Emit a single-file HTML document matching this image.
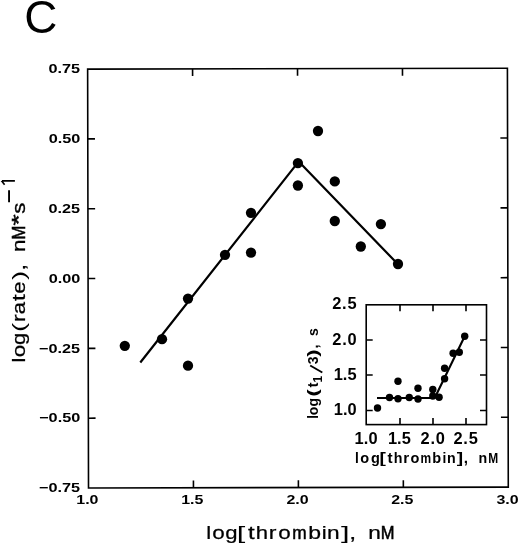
<!DOCTYPE html><html><head><meta charset="utf-8"><title>C</title><style>
html,body{margin:0;padding:0;background:#fff;}svg{display:block;will-change:transform;}
text{font-family:"Liberation Sans",sans-serif;fill:#000;}
.b{font-weight:bold;}
</style></head><body>
<svg width="520" height="545" viewBox="0 0 520 545">
<rect width="520" height="545" fill="#fff"/>
<text transform="translate(24.30,33.00) scale(1.0,1)" font-size="45.9">C</text>
<g transform="rotate(-0.12 298 278)">
<rect x="88.07" y="68.66" width="419.78" height="418.90" fill="none" stroke="#000" stroke-width="1.6"/>
<path d="M88.07 138.48h7.2M507.85 138.48h-7.2M88.07 208.29h7.2M507.85 208.29h-7.2M88.07 278.11h7.2M507.85 278.11h-7.2M88.07 347.93h7.2M507.85 347.93h-7.2M88.07 417.74h7.2M507.85 417.74h-7.2M193.01 68.66v7.2M193.01 487.56v-7.2M297.96 68.66v7.2M297.96 487.56v-7.2M402.91 68.66v7.2M402.91 487.56v-7.2" stroke="#000" stroke-width="1.6" fill="none"/>
</g>
<text class="b" transform="translate(48.44,73.35) scale(1.25,1)" font-size="13.0">0.75</text>
<text class="b" transform="translate(48.64,143.17) scale(1.25,1)" font-size="13.0">0.50</text>
<text class="b" transform="translate(48.44,212.98) scale(1.25,1)" font-size="13.0">0.25</text>
<text class="b" transform="translate(48.64,282.80) scale(1.25,1)" font-size="13.0">0.00</text>
<text class="b" transform="translate(38.93,352.62) scale(1.25,1)" font-size="13.0">−0.25</text>
<text class="b" transform="translate(39.14,422.43) scale(1.25,1)" font-size="13.0">−0.50</text>
<text class="b" transform="translate(38.93,492.25) scale(1.25,1)" font-size="13.0">−0.75</text>
<text class="b" transform="translate(76.30,504.30) scale(1.2,1)" font-size="13.3">1.0</text>
<text class="b" transform="translate(181.14,504.30) scale(1.2,1)" font-size="13.3">1.5</text>
<text class="b" transform="translate(286.41,504.30) scale(1.2,1)" font-size="13.3">2.0</text>
<text class="b" transform="translate(391.25,504.30) scale(1.2,1)" font-size="13.3">2.5</text>
<text class="b" transform="translate(496.40,504.30) scale(1.2,1)" font-size="13.3">3.0</text>
<g><text transform="translate(206.34,539.00) scale(1.15,1)" font-size="19.2" stroke="#000" stroke-width="0.25">l</text><text transform="translate(212.34,539.00) scale(1.17,1)" font-size="19.2" stroke="#000" stroke-width="0.25">o</text><text transform="translate(225.19,539.00) scale(1.15,1)" font-size="19.2" stroke="#000" stroke-width="0.25">g</text><text transform="translate(236.84,539.00) scale(1.6,1)" font-size="19.2">[</text><text transform="translate(247.98,539.00) scale(1.25,1)" font-size="19.2" stroke="#000" stroke-width="0.25">t</text><text transform="translate(255.72,539.00) scale(1.15,1)" font-size="19.2" stroke="#000" stroke-width="0.25">h</text><text transform="translate(268.66,539.00) scale(1.2,1)" font-size="19.2" stroke="#000" stroke-width="0.25">r</text><text transform="translate(278.14,539.00) scale(1.17,1)" font-size="19.2" stroke="#000" stroke-width="0.25">o</text><text transform="translate(292.29,539.00) scale(0.9,1)" font-size="19.2" stroke="#000" stroke-width="0.55">m</text><text transform="translate(308.22,539.00) scale(1.2,1)" font-size="19.2" stroke="#000" stroke-width="0.25">b</text><text transform="translate(321.74,539.00) scale(1.15,1)" font-size="19.2" stroke="#000" stroke-width="0.25">i</text><text transform="translate(327.08,539.00) scale(1.18,1)" font-size="19.2" stroke="#000" stroke-width="0.25">n</text><text transform="translate(341.00,539.00) scale(1.6,1)" font-size="19.2">]</text><text transform="translate(349.24,539.00) scale(1.3,1)" font-size="19.2" stroke="#000" stroke-width="0.25">,</text><text transform="translate(368.28,539.00) scale(1.18,1)" font-size="19.2" stroke="#000" stroke-width="0.25">n</text><text transform="translate(380.73,539.00) scale(0.86,1)" font-size="19.2" stroke="#000" stroke-width="0.6">M</text></g>
<g><text transform="translate(24.70,362.46) rotate(-90) scale(1.15,1)" font-size="19.2" stroke="#000" stroke-width="0.25">l</text><text transform="translate(24.70,357.36) rotate(-90) scale(1.17,1)" font-size="19.2" stroke="#000" stroke-width="0.25">o</text><text transform="translate(24.70,344.91) rotate(-90) scale(1.15,1)" font-size="19.2" stroke="#000" stroke-width="0.25">g</text><text transform="translate(24.70,331.99) rotate(-90) scale(1.45,1)" font-size="19.2">(</text><text transform="translate(24.70,321.94) rotate(-90) scale(1.2,1)" font-size="19.2" stroke="#000" stroke-width="0.25">r</text><text transform="translate(24.70,314.20) rotate(-90) scale(1.15,1)" font-size="19.2" stroke="#000" stroke-width="0.25">a</text><text transform="translate(24.70,300.92) rotate(-90) scale(1.25,1)" font-size="19.2" stroke="#000" stroke-width="0.25">t</text><text transform="translate(24.70,293.73) rotate(-90) scale(1.15,1)" font-size="19.2" stroke="#000" stroke-width="0.25">e</text><text transform="translate(24.70,280.06) rotate(-90) scale(1.45,1)" font-size="19.2">)</text><text transform="translate(24.70,270.76) rotate(-90) scale(1.3,1)" font-size="19.2" stroke="#000" stroke-width="0.25">,</text><text transform="translate(24.70,252.02) rotate(-90) scale(1.18,1)" font-size="19.2" stroke="#000" stroke-width="0.25">n</text><text transform="translate(24.70,239.47) rotate(-90) scale(0.86,1)" font-size="19.2" stroke="#000" stroke-width="0.6">M</text><text transform="translate(24.70,225.62) rotate(-90) scale(1.5,1)" font-size="19.2" stroke="#000" stroke-width="0.5">*</text><text transform="translate(24.70,213.84) rotate(-90) scale(1.15,1)" font-size="19.2" stroke="#000" stroke-width="0.35">s</text></g>
<path d="M9.05 202.2V190.2" stroke="#000" stroke-width="1.9" fill="none"/>
<path d="M14.9 180.85H1.9M1.3 180.5L4.6 184.7" stroke="#000" stroke-width="1.6" fill="none"/>
<path d="M140.3 362.5L298.0 162.4M299.4 162.3L398 264.3" stroke="#000" stroke-width="2.2" fill="none"/>
<circle cx="124.8" cy="345.8" r="5.15"/>
<circle cx="162.0" cy="339.2" r="5.15"/>
<circle cx="188" cy="298.6" r="5.15"/>
<circle cx="188" cy="365.7" r="5.15"/>
<circle cx="225" cy="254.8" r="5.15"/>
<circle cx="251" cy="212.8" r="5.15"/>
<circle cx="251" cy="252.6" r="5.15"/>
<circle cx="297.9" cy="163.1" r="5.15"/>
<circle cx="297.9" cy="185.5" r="5.15"/>
<circle cx="318" cy="131" r="5.15"/>
<circle cx="334.8" cy="181.4" r="5.15"/>
<circle cx="334.8" cy="221" r="5.15"/>
<circle cx="360.8" cy="246.5" r="5.15"/>
<circle cx="380.9" cy="224.1" r="5.15"/>
<circle cx="398" cy="264" r="5.15"/>
<rect x="366.2" y="304.8" width="120.30" height="119.80" fill="none" stroke="#000" stroke-width="1.6"/>
<path d="M366.2 340h6.5M486.5 340h-6.5M366.2 375h6.5M486.5 375h-6.5M366.2 410.5h6.5M486.5 410.5h-6.5M400 304.8v6.5M400 424.6v-6.5M433 304.8v6.5M433 424.6v-6.5M466 304.8v6.5M466 424.6v-6.5" stroke="#000" stroke-width="1.6" fill="none"/>
<text class="b" transform="translate(332.22,309.40) scale(1.04,1)" font-size="15.8" letter-spacing="0.715">2.5</text>
<text class="b" transform="translate(332.22,344.60) scale(1.04,1)" font-size="15.8" letter-spacing="0.813">2.0</text>
<text class="b" transform="translate(333.67,379.60) scale(1.04,1)" font-size="15.8" letter-spacing="0.018">1.5</text>
<text class="b" transform="translate(333.67,415.10) scale(1.04,1)" font-size="15.8" letter-spacing="0.117">1.0</text>
<text class="b" transform="translate(354.47,443.80) scale(1.04,1)" font-size="15.8" letter-spacing="0.117">1.0</text>
<text class="b" transform="translate(387.97,443.80) scale(1.04,1)" font-size="15.8" letter-spacing="0.018">1.5</text>
<text class="b" transform="translate(420.47,443.80) scale(1.04,1)" font-size="15.8" letter-spacing="0.813">2.0</text>
<text class="b" transform="translate(453.47,443.80) scale(1.04,1)" font-size="15.8" letter-spacing="0.715">2.5</text>
<g><text class="b" transform="translate(354.99,462.60) scale(0.9,1)" font-size="15.3">l</text><text class="b" transform="translate(360.15,462.60) scale(0.95,1)" font-size="15.3">o</text><text class="b" transform="translate(370.95,462.60) scale(0.95,1)" font-size="15.3">g</text><text class="b" transform="translate(379.61,462.60) scale(1.25,1)" font-size="15.3">[</text><text class="b" transform="translate(387.46,462.60) scale(1.0,1)" font-size="15.3">t</text><text class="b" transform="translate(393.69,462.60) scale(0.93,1)" font-size="15.3">h</text><text class="b" transform="translate(403.13,462.60) scale(1.0,1)" font-size="15.3">r</text><text class="b" transform="translate(410.55,462.60) scale(0.95,1)" font-size="15.3">o</text><text class="b" transform="translate(420.52,462.60) scale(0.78,1)" font-size="15.3">m</text><text class="b" transform="translate(432.29,462.60) scale(0.95,1)" font-size="15.3">b</text><text class="b" transform="translate(442.49,462.60) scale(0.9,1)" font-size="15.3">i</text><text class="b" transform="translate(447.12,462.60) scale(0.93,1)" font-size="15.3">n</text><text class="b" transform="translate(456.63,462.60) scale(1.25,1)" font-size="15.3">]</text><text class="b" transform="translate(463.66,462.60) scale(1.0,1)" font-size="15.3">,</text><text class="b" transform="translate(478.42,462.60) scale(0.93,1)" font-size="15.3">n</text><text class="b" transform="translate(488.23,462.60) scale(0.78,1)" font-size="15.3">M</text></g>
<g><text class="b" transform="translate(318.40,418.85) rotate(-90) scale(0.9,1)" font-size="14.8">l</text><text class="b" transform="translate(318.40,415.31) rotate(-90) scale(0.95,1)" font-size="14.8">o</text><text class="b" transform="translate(318.40,406.41) rotate(-90) scale(0.95,1)" font-size="14.8">g</text><text class="b" transform="translate(318.40,396.62) rotate(-90) scale(1.5,1)" font-size="14.8">(</text><text class="b" transform="translate(318.40,387.46) rotate(-90) scale(1.0,1)" font-size="14.8">t</text><text class="b" transform="translate(321.60,382.44) rotate(-90) scale(1.0,1)" font-size="12.0">1</text><text class="b" transform="translate(318.40,364.21) rotate(-90) scale(0.95,1)" font-size="14.8">3</text><text class="b" transform="translate(318.40,356.76) rotate(-90) scale(1.5,1)" font-size="14.8">)</text><text class="b" transform="translate(318.40,348.47) rotate(-90) scale(1.0,1)" font-size="14.8">,</text><text class="b" transform="translate(318.40,336.07) rotate(-90) scale(0.95,1)" font-size="14.8">s</text></g>
<path d="M322.3 372.5L310.2 365.5" stroke="#000" stroke-width="1.9" fill="none"/>
<path d="M377 398L434.7 398L464.7 336.2" stroke="#000" stroke-width="2.1" fill="none" stroke-linejoin="round"/>
<circle cx="377.5" cy="408" r="3.7"/>
<circle cx="389.5" cy="397.5" r="3.7"/>
<circle cx="398" cy="381.25" r="3.7"/>
<circle cx="398" cy="398.75" r="3.7"/>
<circle cx="409.25" cy="397.5" r="3.7"/>
<circle cx="418" cy="388.25" r="3.7"/>
<circle cx="418" cy="399" r="3.7"/>
<circle cx="432.8" cy="389.5" r="3.7"/>
<circle cx="432.8" cy="396.0" r="3.7"/>
<circle cx="439.1" cy="397.2" r="3.7"/>
<circle cx="444.6" cy="378.8" r="3.7"/>
<circle cx="444.6" cy="368.3" r="3.7"/>
<circle cx="453.1" cy="353.2" r="3.7"/>
<circle cx="459.3" cy="352.2" r="3.7"/>
<circle cx="464.7" cy="336.2" r="3.7"/>
</svg></body></html>
